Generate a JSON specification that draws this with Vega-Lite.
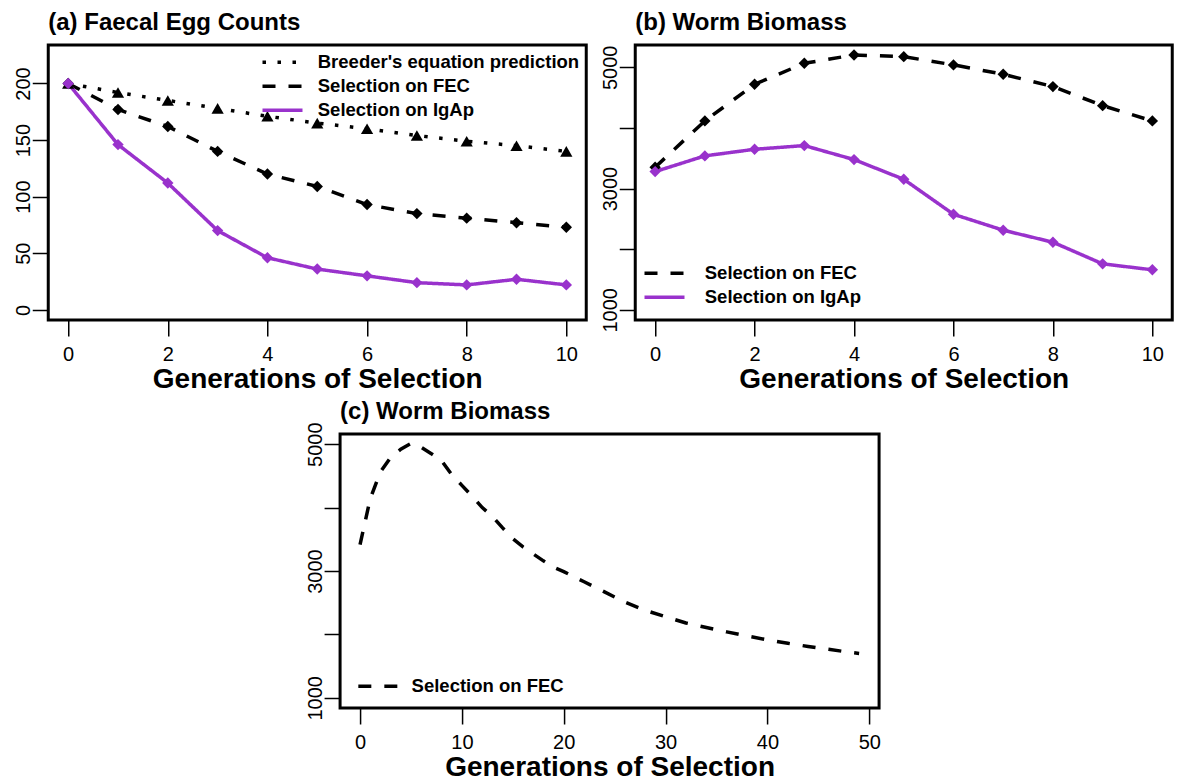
{
  "$schema": "https://vega.github.io/schema/vega-lite/v6.json",
  "autosize": {"type": "pad"},
  "padding": {"left": 11, "top": 9, "right": 0, "bottom": 0},
  "background": "white",
  "datasets": {
    "a": [
      {"gen": 0, "series": "Breeder's equation prediction", "value": 200},
      {"gen": 1, "series": "Breeder's equation prediction", "value": 192},
      {"gen": 2, "series": "Breeder's equation prediction", "value": 185},
      {"gen": 3, "series": "Breeder's equation prediction", "value": 178},
      {"gen": 4, "series": "Breeder's equation prediction", "value": 171},
      {"gen": 5, "series": "Breeder's equation prediction", "value": 165},
      {"gen": 6, "series": "Breeder's equation prediction", "value": 160},
      {"gen": 7, "series": "Breeder's equation prediction", "value": 154},
      {"gen": 8, "series": "Breeder's equation prediction", "value": 149},
      {"gen": 9, "series": "Breeder's equation prediction", "value": 145},
      {"gen": 10, "series": "Breeder's equation prediction", "value": 140},
      {"gen": 0, "series": "Selection on FEC", "value": 200},
      {"gen": 1, "series": "Selection on FEC", "value": 177},
      {"gen": 2, "series": "Selection on FEC", "value": 162},
      {"gen": 3, "series": "Selection on FEC", "value": 140},
      {"gen": 4, "series": "Selection on FEC", "value": 120},
      {"gen": 5, "series": "Selection on FEC", "value": 109},
      {"gen": 6, "series": "Selection on FEC", "value": 93},
      {"gen": 7, "series": "Selection on FEC", "value": 85},
      {"gen": 8, "series": "Selection on FEC", "value": 81},
      {"gen": 9, "series": "Selection on FEC", "value": 77},
      {"gen": 10, "series": "Selection on FEC", "value": 73},
      {"gen": 0, "series": "Selection on IgAp", "value": 200},
      {"gen": 1, "series": "Selection on IgAp", "value": 146},
      {"gen": 2, "series": "Selection on IgAp", "value": 112},
      {"gen": 3, "series": "Selection on IgAp", "value": 70},
      {"gen": 4, "series": "Selection on IgAp", "value": 46},
      {"gen": 5, "series": "Selection on IgAp", "value": 36},
      {"gen": 6, "series": "Selection on IgAp", "value": 30},
      {"gen": 7, "series": "Selection on IgAp", "value": 24},
      {"gen": 8, "series": "Selection on IgAp", "value": 22},
      {"gen": 9, "series": "Selection on IgAp", "value": 27},
      {"gen": 10, "series": "Selection on IgAp", "value": 22}
    ],
    "b": [
      {"gen": 0, "series": "Selection on FEC", "value": 3352},
      {"gen": 1, "series": "Selection on FEC", "value": 4116},
      {"gen": 2, "series": "Selection on FEC", "value": 4720},
      {"gen": 3, "series": "Selection on FEC", "value": 5066},
      {"gen": 4, "series": "Selection on FEC", "value": 5204},
      {"gen": 5, "series": "Selection on FEC", "value": 5176},
      {"gen": 6, "series": "Selection on FEC", "value": 5040},
      {"gen": 7, "series": "Selection on FEC", "value": 4885},
      {"gen": 8, "series": "Selection on FEC", "value": 4682},
      {"gen": 9, "series": "Selection on FEC", "value": 4368},
      {"gen": 10, "series": "Selection on FEC", "value": 4116},
      {"gen": 0, "series": "Selection on IgAp", "value": 3280},
      {"gen": 1, "series": "Selection on IgAp", "value": 3539},
      {"gen": 2, "series": "Selection on IgAp", "value": 3648},
      {"gen": 3, "series": "Selection on IgAp", "value": 3709},
      {"gen": 4, "series": "Selection on IgAp", "value": 3478},
      {"gen": 5, "series": "Selection on IgAp", "value": 3153},
      {"gen": 6, "series": "Selection on IgAp", "value": 2576},
      {"gen": 7, "series": "Selection on IgAp", "value": 2313},
      {"gen": 8, "series": "Selection on IgAp", "value": 2115},
      {"gen": 9, "series": "Selection on IgAp", "value": 1758},
      {"gen": 10, "series": "Selection on IgAp", "value": 1660}
    ],
    "c": [
      {"gen": 0, "series": "Selection on FEC", "value": 3415},
      {"gen": 1, "series": "Selection on FEC", "value": 4140},
      {"gen": 2, "series": "Selection on FEC", "value": 4560},
      {"gen": 3, "series": "Selection on FEC", "value": 4790},
      {"gen": 4, "series": "Selection on FEC", "value": 4920},
      {"gen": 5, "series": "Selection on FEC", "value": 5010},
      {"gen": 6, "series": "Selection on FEC", "value": 4950},
      {"gen": 7, "series": "Selection on FEC", "value": 4850},
      {"gen": 8, "series": "Selection on FEC", "value": 4740},
      {"gen": 9, "series": "Selection on FEC", "value": 4520},
      {"gen": 10, "series": "Selection on FEC", "value": 4350},
      {"gen": 11, "series": "Selection on FEC", "value": 4180},
      {"gen": 12, "series": "Selection on FEC", "value": 4000},
      {"gen": 13, "series": "Selection on FEC", "value": 3860},
      {"gen": 14, "series": "Selection on FEC", "value": 3680},
      {"gen": 15, "series": "Selection on FEC", "value": 3510},
      {"gen": 16, "series": "Selection on FEC", "value": 3380},
      {"gen": 17, "series": "Selection on FEC", "value": 3270},
      {"gen": 18, "series": "Selection on FEC", "value": 3160},
      {"gen": 19, "series": "Selection on FEC", "value": 3060},
      {"gen": 20, "series": "Selection on FEC", "value": 2990},
      {"gen": 22, "series": "Selection on FEC", "value": 2830},
      {"gen": 24, "series": "Selection on FEC", "value": 2670},
      {"gen": 26, "series": "Selection on FEC", "value": 2510},
      {"gen": 28, "series": "Selection on FEC", "value": 2380},
      {"gen": 30, "series": "Selection on FEC", "value": 2280},
      {"gen": 32, "series": "Selection on FEC", "value": 2180},
      {"gen": 34, "series": "Selection on FEC", "value": 2110},
      {"gen": 36, "series": "Selection on FEC", "value": 2040},
      {"gen": 38, "series": "Selection on FEC", "value": 1975},
      {"gen": 40, "series": "Selection on FEC", "value": 1915},
      {"gen": 42, "series": "Selection on FEC", "value": 1860},
      {"gen": 44, "series": "Selection on FEC", "value": 1810},
      {"gen": 46, "series": "Selection on FEC", "value": 1765},
      {"gen": 48, "series": "Selection on FEC", "value": 1720},
      {"gen": 49, "series": "Selection on FEC", "value": 1700}
    ]
  },
  "config": {
    "font": "Liberation Sans",
    "view": {"stroke": "black", "strokeWidth": 3},
    "axis": {
      "domain": false, "grid": false, "ticks": true,
      "tickColor": "black", "tickWidth": 1.5, "tickSize": 16,
      "labelFont": "Liberation Sans", "labelFontSize": 20, "labelColor": "black",
      "titleFont": "Liberation Sans", "titleFontSize": 28, "titleFontWeight": "bold", "titleColor": "black"
    },
    "axisX": {"labelPadding": 8, "labelBaseline": "top", "titleY": 67, "titleBaseline": "alphabetic"},
    "axisY": {"labelAngle": -90, "labelAlign": "center", "labelBaseline": "alphabetic", "labelPadding": 3, "title": null},
    "title": {"anchor": "start", "frame": "group", "fontSize": 24, "font": "Liberation Sans", "fontWeight": "bold", "color": "black", "baseline": "alphabetic", "offset": 10},
    "legend": {
      "title": null, "symbolType": "M-4,0L4,0", "symbolSize": 100, "symbolStrokeWidth": 3.5,
      "labelFont": "Liberation Sans", "labelFontSize": 18.5, "labelFontWeight": "bold", "labelColor": "black",
      "labelOffset": 26, "rowPadding": 5, "padding": 0, "labelLimit": 500
    }
  },
  "spacing": 3,
  "center": true,
  "resolve": {
    "scale": {"color": "independent", "strokeDash": "independent"},
    "legend": {"color": "independent", "strokeDash": "independent"}
  },
  "vconcat": [
    {
      "spacing": 49,
      "bounds": "flush",
      "resolve": {
        "scale": {"color": "independent", "strokeDash": "independent"},
        "legend": {"color": "independent", "strokeDash": "independent"}
      },
      "hconcat": [
        {
          "width": 538, "height": 275,
          "title": "(a) Faecal Egg Counts",
          "data": {"name": "a"},
          "encoding": {
            "x": {"field": "gen", "type": "quantitative", "scale": {"domain": [-0.4, 10.4], "nice": false, "zero": false}, "axis": {"values": [0, 2, 4, 6, 8, 10], "title": "Generations of Selection"}},
            "y": {"field": "value", "type": "quantitative", "scale": {"domain": [-9, 234], "nice": false, "zero": false}, "axis": {"values": [0, 50, 100, 150, 200], "title": null}}
          },
          "layer": [
            {
              "mark": {"type": "line", "strokeWidth": 3.5},
              "encoding": {
                "color": {"field": "series", "type": "nominal",
                  "scale": {"domain": ["Breeder's equation prediction", "Selection on FEC", "Selection on IgAp"], "range": ["black", "black", "#9932CC"]},
                  "legend": {"orient": "none", "legendX": 225, "legendY": 8}},
                "strokeDash": {"field": "series", "type": "nominal",
                  "scale": {"domain": ["Breeder's equation prediction", "Selection on FEC", "Selection on IgAp"], "range": [[3.5, 11.5], [13, 13], [1, 0]]},
                  "legend": {"orient": "none", "legendX": 225, "legendY": 8}}
              }
            },
            {
              "transform": [{"filter": "datum.series === \"Breeder's equation prediction\""}],
              "mark": {"type": "point", "filled": true, "opacity": 1, "size": 150, "shape": "triangle-up", "color": "black", "strokeWidth": 0}
            },
            {
              "transform": [{"filter": "datum.series === 'Selection on FEC'"}],
              "mark": {"type": "point", "filled": true, "opacity": 1, "size": 130, "shape": "diamond", "color": "black", "strokeWidth": 0}
            },
            {
              "transform": [{"filter": "datum.series === 'Selection on IgAp'"}],
              "mark": {"type": "point", "filled": true, "opacity": 1, "size": 130, "shape": "diamond", "color": "#9932CC", "strokeWidth": 0}
            }
          ]
        },
        {
          "width": 537, "height": 275,
          "title": "(b) Worm Biomass",
          "data": {"name": "b"},
          "encoding": {
            "x": {"field": "gen", "type": "quantitative", "scale": {"domain": [-0.4, 10.4], "nice": false, "zero": false}, "axis": {"values": [0, 2, 4, 6, 8, 10], "title": "Generations of Selection"}},
            "y": {"field": "value", "type": "quantitative", "scale": {"domain": [832, 5368], "nice": false, "zero": false}, "axis": {"values": [1000, 2000, 3000, 4000, 5000], "format": "d", "labelExpr": "datum.value % 2000 == 1000 ? datum.label : ''", "title": null}}
          },
          "layer": [
            {
              "mark": {"type": "line", "strokeWidth": 3.5},
              "encoding": {
                "color": {"field": "series", "type": "nominal",
                  "scale": {"domain": ["Selection on FEC", "Selection on IgAp"], "range": ["black", "#9932CC"]},
                  "legend": {"orient": "none", "legendX": 20, "legendY": 219, "labelOffset": 31}},
                "strokeDash": {"field": "series", "type": "nominal",
                  "scale": {"domain": ["Selection on FEC", "Selection on IgAp"], "range": [[13, 13], [1, 0]]},
                  "legend": {"orient": "none", "legendX": 20, "legendY": 219, "labelOffset": 31}}
              }
            },
            {
              "transform": [{"filter": "datum.series === 'Selection on FEC'"}],
              "mark": {"type": "point", "filled": true, "opacity": 1, "size": 130, "shape": "diamond", "color": "black", "strokeWidth": 0}
            },
            {
              "transform": [{"filter": "datum.series === 'Selection on IgAp'"}],
              "mark": {"type": "point", "filled": true, "opacity": 1, "size": 130, "shape": "diamond", "color": "#9932CC", "strokeWidth": 0}
            }
          ]
        }
      ]
    },
    {
      "width": 539, "height": 274,
      "title": {"text": "(c) Worm Biomass", "offset": -2},
      "data": {"name": "c"},
      "encoding": {
        "x": {"field": "gen", "type": "quantitative", "scale": {"domain": [-1.96, 50.96], "nice": false, "zero": false}, "axis": {"values": [0, 10, 20, 30, 40, 50], "title": "Generations of Selection"}},
        "y": {"field": "value", "type": "quantitative", "scale": {"domain": [840, 5160], "nice": false, "zero": false}, "axis": {"values": [1000, 2000, 3000, 4000, 5000], "format": "d", "labelExpr": "datum.value % 2000 == 1000 ? datum.label : ''", "title": null}}
      },
      "layer": [
        {
          "mark": {"type": "line", "strokeWidth": 3.5},
          "encoding": {
            "color": {"field": "series", "type": "nominal",
              "scale": {"domain": ["Selection on FEC"], "range": ["black"]},
              "legend": {"orient": "none", "legendX": 29, "legendY": 243, "labelOffset": 24}},
            "strokeDash": {"field": "series", "type": "nominal",
              "scale": {"domain": ["Selection on FEC"], "range": [[13, 13]]},
              "legend": {"orient": "none", "legendX": 29, "legendY": 243, "labelOffset": 24}}
          }
        }
      ]
    }
  ]
}
